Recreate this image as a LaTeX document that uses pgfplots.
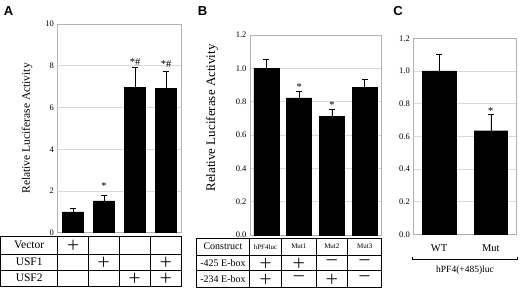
\documentclass[border=0pt]{standalone}
\usepackage{pgfplots}
\usepackage{pgfplotstable}
\pgfplotsset{compat=1.18}
\usepackage{fontspec}
\setmainfont{Liberation Serif}
\newfontfamily\arialf{Liberation Sans}
\newfontfamily\cjk{Noto Sans CJK SC}
\pgfplotstableread{
x y e
0 1.00 0.15
1 1.53 0.28
2 6.97 0.96
3 6.92 0.83
}\dataA
\pgfplotstableread{
x y e
0 1.000 0.054
1 0.822 0.042
2 0.712 0.044
3 0.884 0.052
}\dataB
\pgfplotstableread{
x y e
0 1.000 0.104
1 0.634 0.101
}\dataC
\pgfplotsset{
  panel/.style={
    scale only axis, anchor=south west,
    xtick=\empty,
    ymajorgrids, grid style={gray!30, line width=0.5pt},
    axis line style={gray!60, line width=0.5pt},
    major tick style={draw=none},
    /pgf/number format/assume math mode=true,
    yticklabel style={font=\fontsize{8.5}{9}\selectfont},
    clip=false,
  },
  barplot/.style={ybar, bar width=#1, fill=black, draw=black,
    error bars/.cd, y dir=plus, y explicit,
    error bar style={black, line width=0.6pt},
    error mark options={rotate=90, mark size=3pt, black, line width=0.6pt}},
}
\newcommand{\pl}{{\cjk\fontsize{14}{14}\selectfont ＋}}
\newcommand{\mn}{{\cjk\fontsize{14}{14}\selectfont －}}
\begin{document}
\begin{tikzpicture}[x=1pt,y=1pt]
\useasboundingbox (0,0) rectangle (520,288);
% ---------------- Panel A
\begin{axis}[panel,
  at={(57.5pt,55.3pt)}, width=124.2pt, height=208.7pt,
  xmin=-0.5, xmax=3.5, ymin=0, ymax=10, ytick={0,2,...,10},
  ylabel={Relative Luciferase Activity},
  ylabel style={font=\fontsize{11.5}{12}\selectfont, at={(axis description cs:-0.245,0.5)}, anchor=center},
]
\addplot[barplot=21pt] table[x=x, y=y, y error=e] {\dataA};
\node[font=\fontsize{10.5}{10.5}\selectfont] at (axis cs:1,2.22) {*};
\node[font=\fontsize{10.5}{10.5}\selectfont] at (axis cs:2,8.17) {*\#};
\node[font=\fontsize{10.5}{10.5}\selectfont] at (axis cs:3,8.07) {*\#};
\end{axis}
% ---------------- Panel B
\begin{axis}[panel,
  at={(250pt,53pt)}, width=131pt, height=200pt,
  xmin=-0.5, xmax=3.5, ymin=0, ymax=1.2, ytick={0,0.2,...,1.21},
  yticklabel style={/pgf/number format/.cd, fixed, fixed zerofill, precision=1},
  ylabel={Relative Luciferase Activity},
  ylabel style={font=\fontsize{13}{13}\selectfont, at={(axis description cs:-0.29,0.585)}, anchor=center},
]
\addplot[barplot=25pt] table[x=x, y=y, y error=e] {\dataB};
\node[font=\fontsize{10.5}{10.5}\selectfont] at (axis cs:1,0.89) {*};
\node[font=\fontsize{10.5}{10.5}\selectfont] at (axis cs:2,0.782) {*};
\end{axis}
% ---------------- Panel C
\begin{axis}[panel,
  at={(413.3pt,53.7pt)}, width=103.4pt, height=196pt,
  xmin=-0.5, xmax=1.5, ymin=0, ymax=1.2, ytick={0,0.2,...,1.21},
  yticklabel style={/pgf/number format/.cd, fixed, fixed zerofill, precision=1},
  xtick={0,1}, xticklabels={WT,Mut},
  xticklabel style={font=\fontsize{10.5}{10.5}\selectfont, yshift=-7pt},
]
\addplot[barplot=33.4pt] table[x=x, y=y, y error=e] {\dataC};
\node[font=\fontsize{10.5}{10.5}\selectfont] at (axis cs:1,0.755) {*};
\end{axis}
% ---------------- Panel letters
\node[font=\arialf\bfseries\fontsize{13}{13}\selectfont] at (8.5,277) {A};
\node[font=\arialf\bfseries\fontsize{13}{13}\selectfont] at (202.5,277) {B};
\node[font=\arialf\bfseries\fontsize{13}{13}\selectfont] at (398,277) {C};
% ---------------- Table A
\begin{scope}[line width=0.6pt]
\draw (0.7,2) rectangle (181.7,52);
\draw (0.7,33.7) -- (181.7,33.7);
\draw (0.7,18) -- (181.7,18);
\foreach \xx in {57.7,88.3,119,150} \draw (\xx,2) -- (\xx,52);
\end{scope}
\begin{scope}[every node/.style={font=\fontsize{11.5}{11.5}\selectfont, inner sep=0pt}]
\node at (29.2,42.85) {Vector};
\node at (29.2,25.85) {USF1};
\node at (29.2,10) {USF2};
\node at (73,42.85) {\pl};
\node at (103.65,25.85) {\pl};
\node at (165.85,25.85) {\pl};
\node at (134.5,10) {\pl};
\node at (165.85,10) {\pl};
\end{scope}
% ---------------- Table B
\begin{scope}[line width=0.6pt]
\draw (196.7,0.7) rectangle (381.7,49.7);
\draw (196.7,33) -- (381.7,33);
\draw (196.7,17.3) -- (381.7,17.3);
\foreach \xx in {249.3,281.7,316,347.7} \draw (\xx,0.7) -- (\xx,49.7);
\end{scope}
\begin{scope}[every node/.style={font=\fontsize{10}{10}\selectfont, inner sep=0pt}]
\node at (223,41.35) {Construct};
\node at (223,25.15) {-425 E-box};
\node at (223,9) {-234 E-box};
\node[font=\fontsize{7}{7}\selectfont] at (265.5,41.35) {hPF4luc};
\node[font=\fontsize{7}{7}\selectfont] at (298.85,41.35) {Mut1};
\node[font=\fontsize{7}{7}\selectfont] at (331.85,41.35) {Mut2};
\node[font=\fontsize{7}{7}\selectfont] at (364.7,41.35) {Mut3};
\node at (265.5,25.15) {\pl};
\node at (298.85,25.15) {\pl};
\node at (331.85,25.15) {\mn};
\node at (364.7,25.15) {\mn};
\node at (265.5,9) {\pl};
\node at (298.85,9) {\mn};
\node at (331.85,9) {\pl};
\node at (364.7,9) {\mn};
\end{scope}
% ---------------- Bracket C
\draw[line width=0.6pt] (412.3,31.3) -- (412.3,28.7) -- (517.7,28.7) -- (517.7,31.3);
\node[font=\fontsize{9.5}{9.5}\selectfont] at (465,18) {hPF4(+485)luc};
\end{tikzpicture}
\end{document}
